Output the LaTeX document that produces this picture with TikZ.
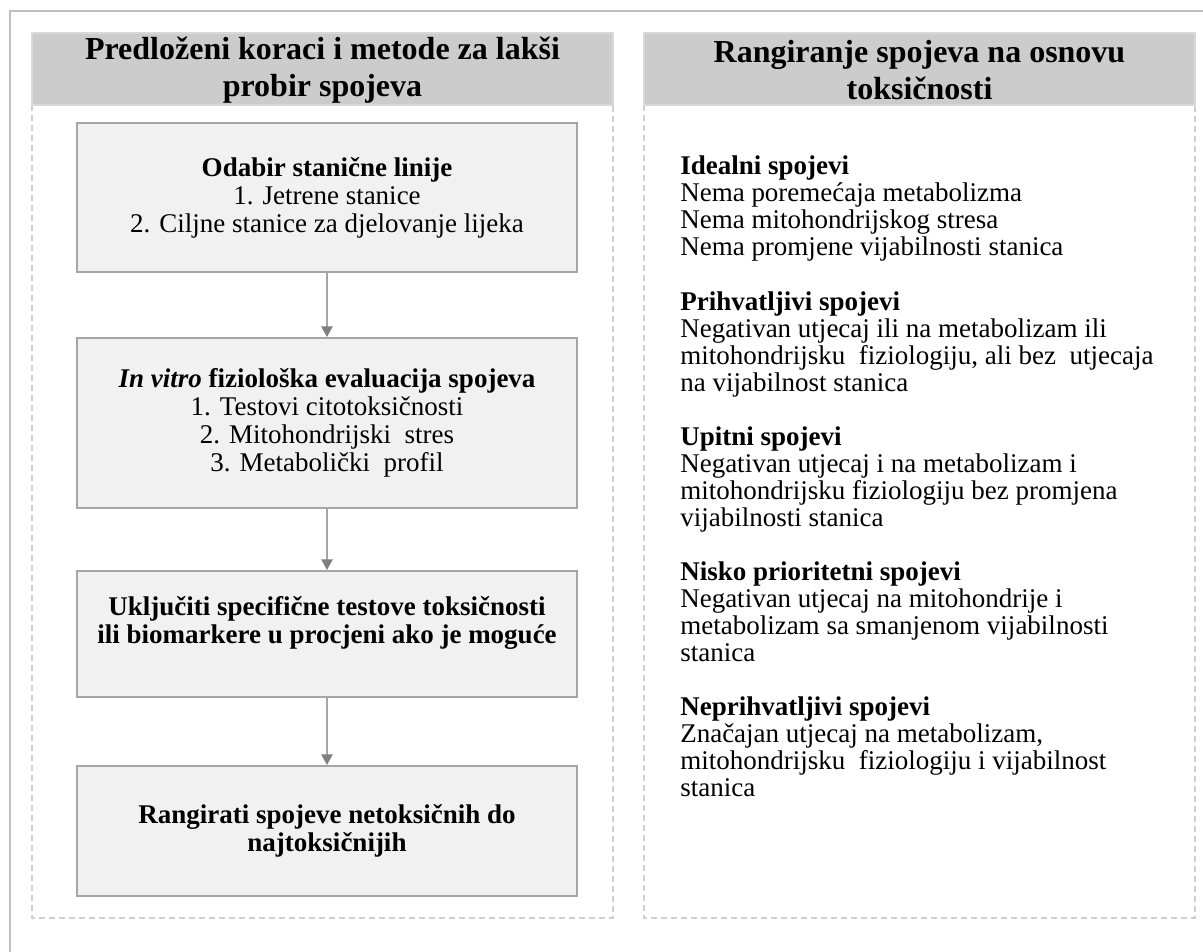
\documentclass[tikz,border=0pt]{standalone}
\usepackage{fontspec}
\setmainfont{Liberation Serif}
\usetikzlibrary{arrows.meta}
\definecolor{hdrfill}{HTML}{CCCCCC}
\definecolor{hdrdraw}{HTML}{D9D9D9}
\definecolor{framecol}{HTML}{BFBFBF}
\definecolor{dashcol}{HTML}{CFCFCF}
\definecolor{boxfill}{HTML}{F1F1F1}
\definecolor{boxdraw}{HTML}{A6A6A6}
\definecolor{arrline}{HTML}{A6A6A6}
\definecolor{arrhead}{HTML}{7F7F7F}
\tikzset{
  framel/.style={draw=framecol, line width=1.5pt},
  dashbox/.style={draw=dashcol, line width=1.1pt, dash pattern=on 4.5pt off 3pt},
  hdrbox/.style={fill=hdrfill, draw=hdrdraw, line width=0.8pt, minimum height=54pt, inner sep=0pt,
    align=center, font=\fontsize{24pt}{27.75pt}\selectfont\bfseries},
  stepbox/.style={fill=boxfill, draw=boxdraw, line width=1.5pt, minimum width=375pt, inner sep=0pt,
    align=center, font=\fontsize{20.25pt}{21pt}\selectfont},
  arr/.style={draw=arrline, line width=1.1pt, -{Triangle[length=8pt,width=8.5pt,color=arrhead]}},
  rtext/.style={anchor=base west, align=left, inner sep=0pt, font=\fontsize{20.25pt}{20.25pt}\selectfont}
}
\begin{document}
\begin{tikzpicture}[x=0.75pt,y=-0.75pt]
\useasboundingbox (0,0) rectangle (1203,952);
% outer frame
\draw[framel] (10,952) -- (10,11) -- (1203,11);
% dashed panels
\draw[dashbox] (32,105) rectangle (613,918);
\draw[dashbox] (644,105) rectangle (1195,918);
% headers
\node[hdrbox, minimum width=435.75pt] (hl) at (322.5,69) {\rule{0pt}{18pt}Predloženi koraci i metode za lakši\\probir spojeva};
\node[hdrbox, minimum width=413.25pt] (hr) at (919.5,69) {\rule{0pt}{18pt}Rangiranje spojeva na osnovu\\toksičnosti};
% left steps
\node[stepbox, minimum height=111.75pt] (b1) at (327,197.5)
  {\textbf{Odabir stanične linije}\\1. Jetrene stanice\\2. Ciljne stanice za djelovanje lijeka};
\node[stepbox, minimum height=127.5pt] (b2) at (327,423)
  {\textbf{\textit{In vitro} fiziološka evaluacija spojeva}\\1. Testovi citotoksičnosti\\2. Mitohondrijski\ \ stres\\3. Metabolički\ \ profil};
\node[stepbox, minimum height=94.5pt] (b3) at (327,634)
  {\textbf{Uključiti specifične testove toksičnosti}\\\textbf{ili biomarkere u procjeni ako je moguće}\\\mbox{}};
\node[stepbox, minimum height=97.5pt] (b4) at (327,831)
  {\textbf{Rangirati spojeve netoksičnih do}\\\textbf{najtoksičnijih}};
\draw[arr] (b1.south) -- (b2.north);
\draw[arr] (b2.south) -- (b3.north);
\draw[arr] (b3.south) -- (b4.north);
% right ranking text (base = baseline of last line)
\node[rtext] (r1) at (680,256) {\textbf{Idealni spojevi}\\Nema poremećaja\ metabolizma\\Nema mitohondrijskog stresa\\Nema promjene vijabilnosti stanica};
\node[rtext] (r2) at (680,391) {\textbf{Prihvatljivi spojevi}\\Negativan utjecaj ili na metabolizam ili\\mitohondrijsku\ \ fiziologiju,\ ali\ bez\ \ utjecaja\\na vijabilnost stanica};
\node[rtext] (r3) at (680,526) {\textbf{Upitni spojevi}\\Negativan utjecaj i na metabolizam i\\mitohondrijsku fiziologiju bez promjena\\vijabilnosti stanica};
\node[rtext] (r4) at (680,661) {\textbf{Nisko prioritetni spojevi}\\Negativan utjecaj na mitohondrije i\\metabolizam sa smanjenom vijabilnosti\\stanica};
\node[rtext] (r5) at (680,796) {\textbf{Neprihvatljivi spojevi}\\Značajan utjecaj na metabolizam,\\mitohondrijsku\ \ fiziologiju i vijabilnost\\stanica};
\end{tikzpicture}
\end{document}
